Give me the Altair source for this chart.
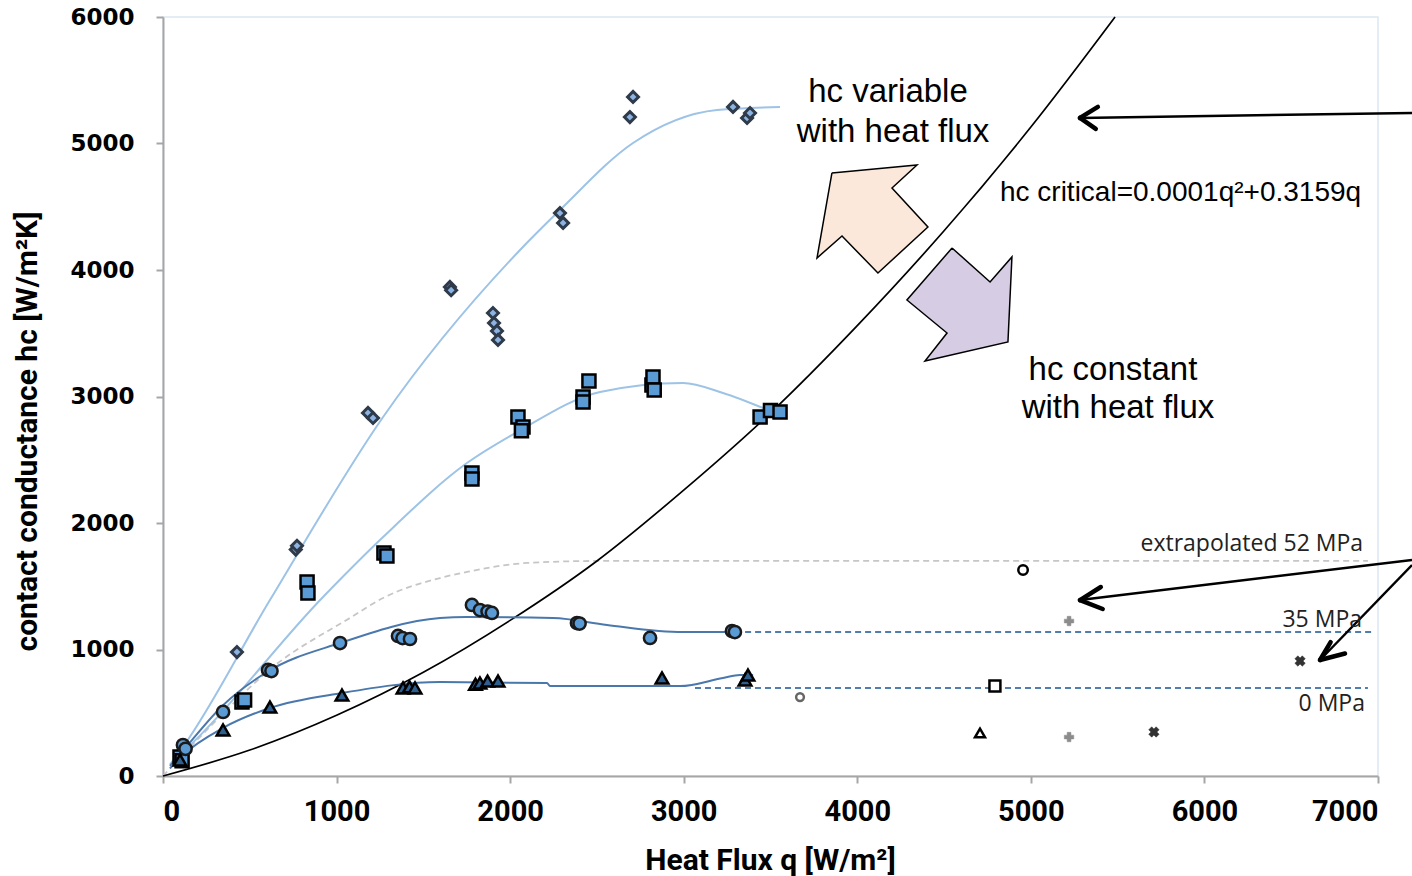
import altair as alt
import pandas as pd

# ---------------- data ----------------
# hc critical curve (black)
crit_q = [0, 500, 1000, 1500, 2000, 2500, 3000, 3500, 4000, 4500, 5000, 5485]
crit_hc = [0, 205, 480, 820, 1230, 1700, 2260, 2870, 3560, 4310, 5130, 6000]

# top series (diamonds) and its fit
dia_q = [115, 130, 426, 765, 772, 1181, 1210, 1653, 1660, 1901, 1907, 1924, 1930, 2287, 2305, 2690, 2708, 3284, 3365, 3382]
dia_hc = [200, 230, 980, 1790, 1820, 2870, 2830, 3866, 3840, 3660, 3581, 3518, 3447, 4450, 4372, 5209, 5368, 5289, 5202, 5241]
dia_fit_q = [40, 115, 616, 1268, 2057, 2287, 2708, 3192, 3555]
dia_fit_hc = [90, 229, 1391, 2838, 4158, 4474, 5004, 5265, 5289]

# squares and fit
sq_q = [98, 110, 455, 470, 830, 835, 1273, 1290, 1780, 1780, 2045, 2074, 2065, 2420, 2420, 2454, 2817, 2823, 2830, 3440, 3500, 3555]
sq_hc = [150, 120, 585, 600, 1534, 1447, 1763, 1739, 2395, 2348, 2838, 2759, 2730, 2996, 2957, 3123, 3091, 3154, 3051, 2838, 2890, 2877]
sq_fit_q = [50, 115, 922, 1268, 1751, 2040, 2518, 2996, 3226, 3490]
sq_fit_hc = [110, 190, 1415, 1889, 2474, 2719, 3036, 3107, 3028, 2890]

# circles (35 MPa) and fit
c_q = [115, 130, 346, 605, 625, 1020, 1354, 1380, 1423, 1780, 1826, 1870, 1895, 2385, 2400, 2806, 3278, 3295]
c_hc = [245, 215, 506, 838, 830, 1051, 1107, 1090, 1083, 1352, 1312, 1300, 1289, 1209, 1205, 1091, 1146, 1138]
c_fit_q = [40, 115, 346, 599, 1020, 1596, 1751, 2247, 2558, 2996, 3300]
c_fit_hc = [80, 200, 560, 822, 1051, 1249, 1257, 1249, 1194, 1138, 1138]

# triangles (0 MPa) and fit
t_q = [98, 346, 616, 1031, 1383, 1420, 1452, 1800, 1826, 1870, 1930, 2875, 3353, 3370]
t_hc = [126, 364, 545, 640, 696, 705, 696, 725, 735, 750, 751, 775, 759, 798]
t_fit_q = [40, 115, 346, 616, 1031, 1596, 2212, 2230, 2979, 3226, 3324, 3400]
t_fit_hc = [60, 166, 380, 538, 656, 743, 735, 711, 711, 775, 798, 798]

# extrapolated 52 MPa (gray dashed)
ex_q = [0, 300, 634, 1077, 1268, 1596, 1751, 2097, 2518, 6942]
ex_hc = [0, 430, 862, 1249, 1407, 1565, 1613, 1684, 1700, 1700]

# constant levels (dashed)
mpa35_q = [3296, 6965]
mpa35_hc = [1138, 1138]
mpa0_q = [3065, 6942]
mpa0_hc = [696, 696]

# outlying hollow / gray markers
o_circle = ([4955], [1628])
o_smallcircle = ([3670], [624])
o_square = ([4793], [711])
o_triangle = ([4707], [340])
o_plus = ([5220, 5220], [1225, 308])
o_x = ([6551, 5709], [909, 348])

# block arrows (polygons)
peach_q = [3854, 4344, 4200, 4407, 4119, 3912, 3768, 3854]
peach_hc = [4767, 4830, 4648, 4340, 3976, 4269, 4095, 4767]
purple_q = [4546, 4765, 4891, 4868, 4390, 4517, 4286, 4546]
purple_hc = [4174, 3905, 4103, 3431, 3281, 3502, 3763, 4174]

# line arrows: shaft (tail -> tip) and head arms
arr_q1 = [7196, 7196, 7196]
arr_hc1 = [5241, 1708, 1668]
arr_q2 = [5283, 5283, 6666]
arr_hc2 = [5202, 1391, 917]
head_tip_q = [5283, 5283, 5283, 5283, 6666, 6666]
head_tip_hc = [5202, 5202, 1391, 1391, 917, 917]
head_end_q = [5386, 5374, 5403, 5414, 6810, 6727]
head_end_hc = [5289, 5115, 1494, 1320, 968, 1058]

# text annotations
txt_big = ["hc variable", "with heat flux", "hc constant", "with heat flux"]
txt_big_q = [4177, 4206, 5473, 5502]
txt_big_hc = [5407, 5091, 3209, 2909]
txt_mpa = ["extrapolated 52 MPa", "35 MPa", "0 MPa"]
txt_mpa_q = [6914, 6908, 6925]
txt_mpa_hc = [1834, 1233, 569]
txt_crit = ["hc critical=0.0001q\u00b2+0.3159q"]
txt_crit_q = [4822]
txt_crit_hc = [4609]

# ---------------- chart ----------------
xs = alt.Scale(domain=[0, 7000], nice=False, zero=False)
ys = alt.Scale(domain=[0, 6000], nice=False, zero=False)

TFONT = "Liberation Sans Narrow, Roboto, sans-serif"

x_enc = alt.X("q:Q", scale=xs, axis=alt.Axis(
    values=[0, 1000, 2000, 3000, 4000, 5000, 6000, 7000], format="d",
    title="Heat Flux q [W/m\u00b2]", grid=False,
    domainColor="#A6A6A6", domainWidth=2, tickColor="#A6A6A6", tickWidth=2, tickSize=7,
    labelFont=TFONT, labelFontWeight="bold",
    labelFontSize=29, labelColor="black", labelPadding=14,
    titleFont=TFONT, titleFontWeight="bold",
    titleFontSize=30, titleColor="black", titleX=607, titleY=84,
    titleBaseline="middle", titleAlign="center"))
y_enc = alt.Y("hc:Q", scale=ys, axis=alt.Axis(
    values=[0, 1000, 2000, 3000, 4000, 5000, 6000], format="d",
    title="contact conductance hc  [W/m\u00b2K]", grid=False,
    domainColor="#A6A6A6", domainWidth=2, tickColor="#A6A6A6", tickWidth=2, tickSize=7,
    labelFont="DejaVu Sans", labelFontWeight="bold", labelFontSize=23,
    labelColor="black", labelPadding=22,
    titleFont=TFONT, titleFontWeight="bold",
    titleFontSize=30, titleColor="black", titleX=-136, titleY=414,
    titleAngle=270, titleBaseline="middle", titleAlign="center"))


def df(q, hc):
    return pd.DataFrame({"q": q, "hc": hc, "i": list(range(len(q)))})


def line(q, hc, color, width, dash=None, interp="monotone"):
    kw = dict(color=color, strokeWidth=width, interpolate=interp)
    if dash:
        kw["strokeDash"] = dash
    return alt.Chart(df(q, hc)).mark_line(**kw).encode(x=x_enc, y=y_enc, order="i:Q")


def pts(q, hc, shape, size, fill, stroke, sw, angle=0):
    return alt.Chart(df(q, hc)).mark_point(
        shape=shape, size=size, filled=False, fill=fill, stroke=stroke,
        strokeWidth=sw, opacity=1, fillOpacity=1, angle=angle
    ).encode(x=x_enc, y=y_enc)


def poly(q, hc, fill):
    return alt.Chart(df(q, hc)).mark_line(
        fill=fill, stroke="black", strokeWidth=1.5, strokeJoin="miter"
    ).encode(x=x_enc, y=y_enc, order="i:Q")


def texts(labels, q, hc, size, font, align, color="black"):
    d = pd.DataFrame({"q": q, "hc": hc, "t": labels})
    return alt.Chart(d).mark_text(
        fontSize=size, font=font, align=align, baseline="middle", color=color
    ).encode(x=x_enc, y=y_enc, text="t:N")


LIGHT = "#9DC3E6"
MID = "#4A78AC"

layers = [
    line(ex_q, ex_hc, "#C6C6C6", 1.8, [6, 4]),
    line(mpa35_q, mpa35_hc, "#4F7DB0", 2, [6, 4], "linear"),
    line(mpa0_q, mpa0_hc, "#4F7DB0", 2, [6, 4], "linear"),
    line(crit_q, crit_hc, "black", 1.7),
    line(dia_fit_q, dia_fit_hc, LIGHT, 2),
    line(sq_fit_q, sq_fit_hc, LIGHT, 2),
    line(c_fit_q, c_fit_hc, MID, 2),
    line(t_fit_q, t_fit_hc, MID, 2),
    pts(dia_q, dia_hc, "diamond", 120, "#8DB3E2", "#2F3B4A", 3),
    pts(sq_q, sq_hc, "square", 170, "#5B9BD5", "black", 2.5),
    pts(c_q, c_hc, "circle", 150, "#5B9BD5", "#1A1A1A", 2.5),
    pts(t_q, t_hc, "triangle-up", 160, "#2E5F8F", "black", 2.5),
    pts(*o_circle, "circle", 90, "white", "black", 2.5),
    pts(*o_smallcircle, "circle", 60, "white", "#666666", 2.5),
    pts(*o_square, "square", 120, "white", "black", 2.5),
    pts(*o_triangle, "triangle-up", 100, "white", "black", 2.5),
    pts(*o_plus, "cross", 90, "#8C8C8C", "#8C8C8C", 0.5),
    pts(*o_x, "cross", 110, "#333333", "#333333", 0.5, 45),
    poly(peach_q, peach_hc, "#FCE8DA"),
    poly(purple_q, purple_hc, "#D6CDE4"),
]

shafts = pd.DataFrame({"q": arr_q1, "hc": arr_hc1, "q2": arr_q2, "hc2": arr_hc2})
heads = pd.DataFrame({"q": head_tip_q, "hc": head_tip_hc, "q2": head_end_q, "hc2": head_end_hc})
layers.append(alt.Chart(shafts).mark_rule(color="black", strokeWidth=2.5).encode(
    x=x_enc, y=y_enc, x2="q2:Q", y2="hc2:Q"))
layers.append(alt.Chart(heads).mark_rule(color="black", strokeWidth=4.5, strokeCap="round").encode(
    x=x_enc, y=y_enc, x2="q2:Q", y2="hc2:Q"))

layers.append(texts(txt_big, txt_big_q, txt_big_hc, 33, "Liberation Sans, Arial, sans-serif", "center"))
layers.append(texts(txt_crit, txt_crit_q, txt_crit_hc, 28, "Liberation Sans, Arial, sans-serif", "left"))
layers.append(texts(txt_mpa, txt_mpa_q, txt_mpa_hc, 23, "Open Sans, sans-serif", "right", "#222222"))

chart = alt.layer(*layers).properties(
    width=1215, height=759,
    padding={"left": 163, "top": 17, "right": 34, "bottom": 100},
    autosize=alt.AutoSizeParams(type="none"),
    background="white",
).configure_view(stroke="#DCE6F2", strokeWidth=1.5)

chart.save("out.html", embed_options={"renderer": "svg", "actions": False})
